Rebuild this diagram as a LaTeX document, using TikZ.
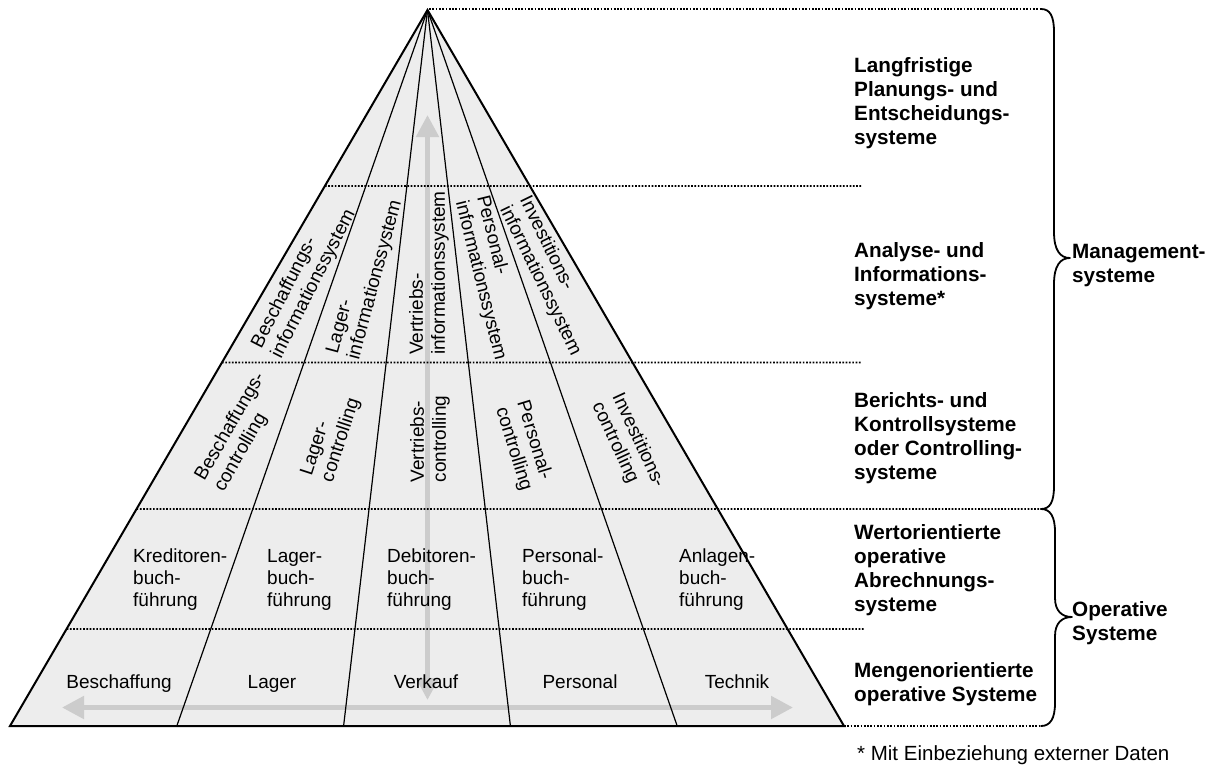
\documentclass[tikz,border=0pt]{standalone}
\usepackage{fontspec}
\setmainfont{Liberation Sans}
\usetikzlibrary{arrows.meta,calc}
\definecolor{pyrfill}{RGB}{237,237,237}
\definecolor{axisgray}{RGB}{204,204,204}
\begin{document}
\begin{tikzpicture}[x=1pt,y=-1pt,
  edge/.style={line width=2pt, line join=miter},
  divider/.style={line width=1.2pt},
  levelline/.style={line width=1.7pt, dash pattern=on 1.7pt off 1.6pt},
  axis/.style={draw=axisgray, line width=5pt,
    {Triangle[length=22pt,width=22pt]}-{Triangle[length=22pt,width=22pt]}},
  cell/.style={font=\fontsize{19}{22}\selectfont, align=left, inner sep=0pt},
  area/.style={font=\fontsize{19}{22}\selectfont, inner sep=0pt, anchor=base},
  tier/.style={font=\bfseries\fontsize{20.7}{24}\selectfont, align=left, anchor=west, inner sep=0pt},
  brace/.style={line width=1.8pt, line cap=round, line join=round}]
\useasboundingbox (0,0) rectangle (1212,766);

% pyramid corners and base division points
\coordinate (A) at (427.5,10);
\coordinate (L) at (10,726);
\coordinate (R) at (844,726);
\coordinate (b1) at ($(L)!0.2!(R)$);
\coordinate (b2) at ($(L)!0.4!(R)$);
\coordinate (b3) at ($(L)!0.6!(R)$);
\coordinate (b4) at ($(L)!0.8!(R)$);

\fill[pyrfill] (A) -- (L) -- (R) -- cycle;

% vertical and horizontal axes
\coordinate (vt) at (427.5,115);
\coordinate (vb) at (427.5,700);
\coordinate (hl) at (62,707.5);
\coordinate (hr) at (793,707.5);
\draw[axis] (vt) -- (vb);
\draw[axis] (hl) -- (hr);

% level separators
\coordinate (l1) at ($(A)!0.2458!(L)$);
\coordinate (l2) at ($(A)!0.4923!(L)$);
\coordinate (l3) at ($(A)!0.6969!(L)$);
\coordinate (l4) at ($(A)!0.8645!(L)$);
\coordinate (e0) at (1041,9);
\coordinate (e1) at (862,186);
\coordinate (e2) at (862,362.5);
\coordinate (e3) at (1041,509);
\coordinate (e4) at (865,629);
\coordinate (e5) at (1041,726);
\draw[levelline] (429,9) -- (e0);
\draw[levelline] (l1) -- (e1);
\draw[levelline] (l2) -- (e2);
\draw[levelline] (l3) -- (e3);
\draw[levelline] (l4) -- (e4);
\draw[levelline] (R) -- (e5);

% sector dividers and outline
\foreach \b in {b1,b2,b3,b4} \draw[divider] (A) -- (\b);
\draw[edge] (A) -- (L) -- (R) -- cycle;

% information systems
\node[cell, rotate=63] (i1) at (304,279) {Beschaffungs-\\informationssystem};
\node[cell, rotate=75] (i2) at (365,277) {Lager-\\informationssystem};
\node[cell, rotate=90] (i3) at (429,273) {Vertriebs-\\informationssystem};
\node[cell, rotate=-76] (i4) at (491,278) {Personal-\\informationssystem};
\node[cell, rotate=-64] (i5) at (550,276) {Investitions-\\informationssystem};

% controlling
\node[cell, rotate=60] (c1) at (240,432) {Beschaffungs-\\controlling};
\node[cell, rotate=72] (c2) at (331,437) {Lager-\\controlling};
\node[cell, rotate=90] (c3) at (430,439) {Vertriebs-\\controlling};
\node[cell, rotate=-73] (c4) at (524,446) {Personal-\\controlling};
\node[cell, rotate=-65] (c5) at (628,445) {Investitions-\\controlling};

% accounting
\node[cell, anchor=west] (k1) at (133,580) {Kreditoren-\\buch-\\führung};
\node[cell, anchor=west] (k2) at (267,580) {Lager-\\buch-\\führung};
\node[cell, anchor=west] (k3) at (387,580) {Debitoren-\\buch-\\führung};
\node[cell, anchor=west] (k4) at (522,580) {Personal-\\buch-\\führung};
\node[cell, anchor=west] (k5) at (679,580) {Anlagen-\\buch-\\führung};

% functional areas
\node[area] (f1) at (119,688) {Beschaffung};
\node[area] (f2) at (272,688) {Lager};
\node[area] (f3) at (426,688) {Verkauf};
\node[area] (f4) at (580,688) {Personal};
\node[area] (f5) at (737,688) {Technik};

% tiers
\node[tier] (t1) at (854,102.7) {Langfristige\\Planungs- und\\Entscheidungs-\\systeme};
\node[tier] (t2) at (854,275.7) {Analyse- und\\Informations-\\systeme*};
\node[tier] (t3) at (854,438) {Berichts- und\\Kontrollsysteme\\oder Controlling-\\systeme};
\node[tier] (t4) at (854,570) {Wertorientierte\\operative\\Abrechnungs-\\systeme};
\node[tier] (t5) at (854,684.2) {Mengenorientierte\\operative Systeme};

% groups
\draw[brace] (e0) .. controls (1050,9) and (1054,16) .. (1054,32)
  -- (1054,232) .. controls (1054,250) and (1060,258) .. (1070,258)
  .. controls (1060,258) and (1054,266) .. (1054,284)
  -- (1054,486) .. controls (1054,502) and (1050,509) .. (e3);
\draw[brace] (e3) .. controls (1050,509) and (1055,516) .. (1055,532)
  -- (1055,598) .. controls (1055,611) and (1062,617) .. (1072,617)
  .. controls (1062,617) and (1055,623) .. (1055,636)
  -- (1055,703) .. controls (1055,719) and (1050,726) .. (e5);
\node[tier] (g1) at (1072,265.7) {Management-\\systeme};
\node[tier] (g2) at (1072,622.7) {Operative\\Systeme};

\node[anchor=base west, inner sep=0pt, font=\fontsize{20.5}{24}\selectfont] (note) at (857,760) {* Mit Einbeziehung externer Daten};
\end{tikzpicture}
\end{document}
